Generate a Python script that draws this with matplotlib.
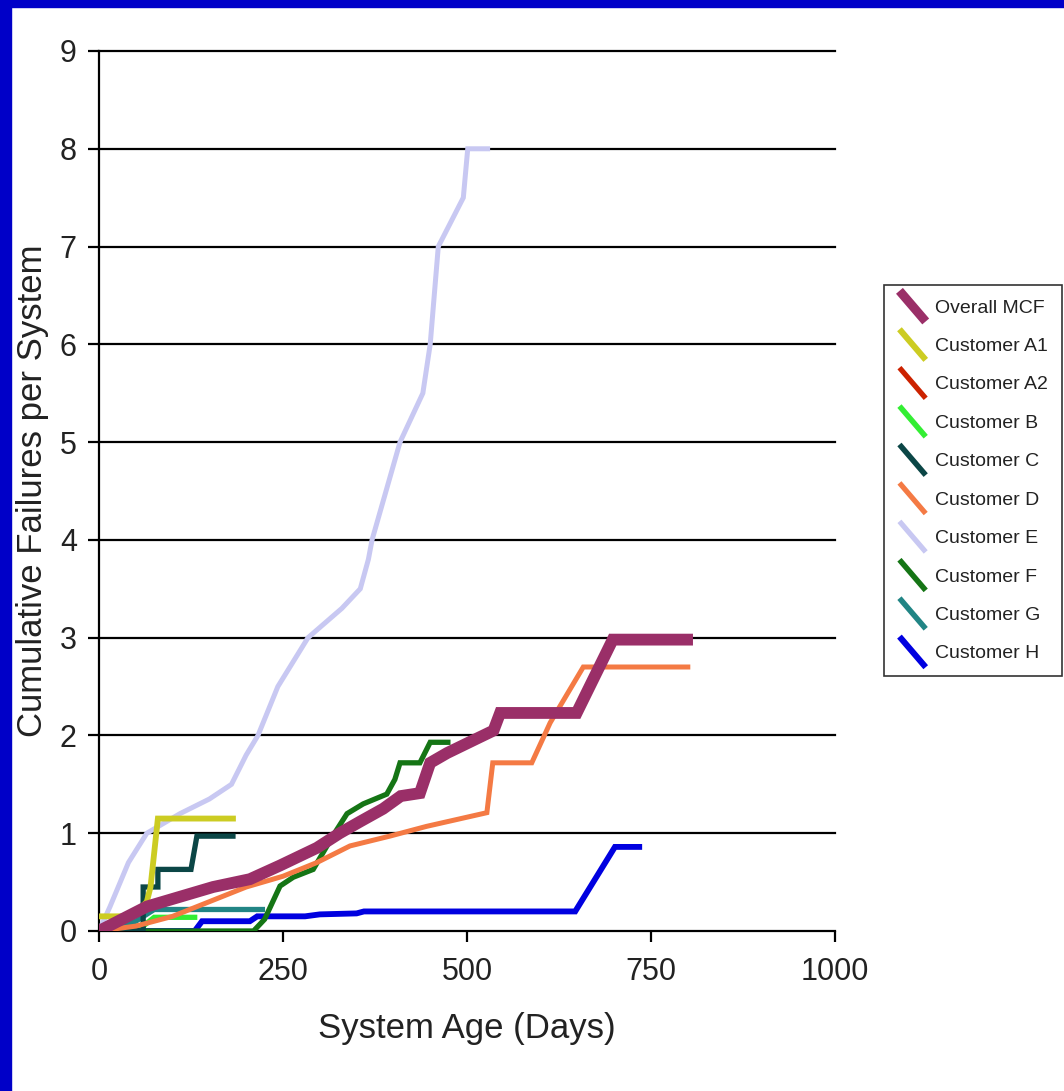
import matplotlib
matplotlib.use("Agg")
import matplotlib.pyplot as plt
from matplotlib.lines import Line2D
from matplotlib.legend_handler import HandlerLine2D
from matplotlib.patches import Rectangle
from matplotlib import font_manager

# ---------------- data ----------------
mcf_days = [0, 65, 155, 205, 246, 296, 327, 355, 386, 410, 436, 450, 473, 514, 536, 545, 649, 698, 799]
mcf_vals = [0, 0.25, 0.45, 0.53, 0.67, 0.85, 1.0, 1.12, 1.25, 1.38, 1.41, 1.72, 1.82, 1.97, 2.05, 2.23, 2.23, 2.98, 2.98]

a1_days = [0, 45, 65, 70, 80, 182]
a1_vals = [0.15, 0.15, 0.3, 0.45, 1.15, 1.15]

a2_days = [0, 30, 60]
a2_vals = [0, 0.05, 0.05]

b_days = [0, 60, 75, 130]
b_vals = [0, 0.05, 0.14, 0.14]

c_days = [0, 60, 60, 80, 80, 125, 133, 182]
c_vals = [0, 0, 0.45, 0.45, 0.63, 0.63, 0.97, 0.97]

d_days = [0, 50, 100, 150, 200, 250, 296, 341, 395, 445, 486, 527, 535, 588, 613, 658, 685, 800]
d_vals = [0, 0.05, 0.15, 0.3, 0.45, 0.56, 0.7, 0.87, 0.97, 1.07, 1.14, 1.21, 1.72, 1.72, 2.13, 2.7, 2.7, 2.7]

e_days = [0, 15, 40, 65, 110, 150, 180, 200, 216, 243, 284, 330, 355, 366, 371, 409, 440, 450, 461, 495, 501, 528]
e_vals = [0, 0.25, 0.7, 1.0, 1.2, 1.35, 1.5, 1.8, 2.0, 2.5, 3.0, 3.3, 3.5, 3.8, 4.0, 5.0, 5.5, 6.0, 7.0, 7.5, 8.0, 8.0]

f_days = [0, 40, 210, 225, 246, 264, 291, 320, 337, 359, 391, 402, 409, 436, 450, 474]
f_vals = [0, 0, 0, 0.12, 0.46, 0.55, 0.63, 1.0, 1.2, 1.3, 1.4, 1.55, 1.72, 1.72, 1.93, 1.93]

g_days = [0, 50, 75, 222]
g_vals = [0, 0.1, 0.22, 0.22]

h_days = [0, 130, 140, 205, 215, 280, 300, 350, 360, 647, 701, 734]
h_vals = [0, 0, 0.1, 0.1, 0.15, 0.15, 0.17, 0.18, 0.2, 0.2, 0.86, 0.86]

labels = ["Overall MCF", "Customer A1", "Customer A2", "Customer B", "Customer C",
          "Customer D", "Customer E", "Customer F", "Customer G", "Customer H"]
x_ticks = [0, 250, 500, 750, 1000]
y_ticks = list(range(0, 10))

# ---------------- fonts ----------------
avail = {f.name for f in font_manager.fontManager.ttflist}
fam = ["Liberation Sans Narrow", "Liberation Sans", "DejaVu Sans"]
fam = [f for f in fam if f in avail] or ["DejaVu Sans"]
plt.rcParams["font.family"] = fam

W, H = 1064, 1091
fig = plt.figure(figsize=(W / 100, H / 100), dpi=100)
fig.patch.set_facecolor("white")
# blue slide border (left and top)
fig.add_artist(Rectangle((0, 0), 11 / W, 1, transform=fig.transFigure, color="#0000C8", zorder=0))
fig.add_artist(Rectangle((0, 1 - 7 / H), 1, 7 / H, transform=fig.transFigure, color="#0000C8", zorder=0))

L, R, B, T = 99, 835, 931, 51
ax = fig.add_axes([L / W, (H - B) / H, (R - L) / W, (B - T) / H])
ax.set_xlim(0, 1000)
ax.set_ylim(0, 9)

for y in y_ticks[1:]:
    ax.axhline(y, color="black", lw=1.6, zorder=1, clip_on=False)

series = [
    (e_days, e_vals, "#C8C8F2", 3.6, 3, labels[6]),
    (a2_days, a2_vals, "#CC2200", 3.6, 3, labels[2]),
    (b_days, b_vals, "#33EE33", 3.8, 4, labels[3]),
    (g_days, g_vals, "#218585", 3.8, 4, labels[8]),
    (h_days, h_vals, "#0000E0", 4.2, 4, labels[9]),
    (f_days, f_vals, "#157515", 3.8, 5, labels[7]),
    (c_days, c_vals, "#0B4646", 3.8, 5, labels[4]),
    (a1_days, a1_vals, "#CCCC22", 4.2, 5, labels[1]),
    (d_days, d_vals, "#F47A44", 3.6, 6, labels[5]),
    (mcf_days, mcf_vals, "#9A2F68", 8.5, 7, labels[0]),
]
handles = {}
for xd, yd, col, lw, z, lab in series:
    ln, = ax.plot(xd, yd, color=col, lw=lw, zorder=z, solid_joinstyle="miter", label=lab)
    handles[lab] = ln

for s in ["top", "right"]:
    ax.spines[s].set_visible(False)
for s in ["left", "bottom"]:
    ax.spines[s].set_linewidth(1.6)
    ax.spines[s].set_color("black")

ax.set_xticks(x_ticks)
ax.set_yticks(y_ticks)
ax.tick_params(axis="both", direction="out", length=8, width=1.6, colors="black",
               labelsize=22, labelcolor="#222222")
ax.tick_params(axis="y", pad=8)
ax.tick_params(axis="x", pad=11)
ax.set_xlabel("System Age (Days)", fontsize=25, color="#222222", labelpad=18)
ax.set_ylabel("Cumulative Failures per System", fontsize=25, color="#222222", labelpad=8)


class DiagHandler(HandlerLine2D):
    def create_artists(self, legend, orig_handle, xdescent, ydescent, width, height, fontsize, trans):
        x0 = -xdescent + width * 0.05
        x1 = -xdescent + width * 0.95
        y0 = -ydescent + height * 1.6
        y1 = -ydescent - height * 0.65
        lw = orig_handle.get_linewidth()
        lw = 6.5 if lw > 5 else lw * 1.05
        line = Line2D([x0, x1], [y0, y1], color=orig_handle.get_color(), lw=lw,
                      solid_capstyle="butt")
        line.set_transform(trans)
        return [line]


leg = fig.legend([handles[l] for l in labels], labels,
                 loc="upper left", bbox_to_anchor=(884 / W, 1 - 285 / H),
                 borderaxespad=0, frameon=True, fancybox=False, edgecolor="black",
                 fontsize=14, labelspacing=1.07, handlelength=1.5, handletextpad=0.4,
                 borderpad=0.72,
                 handler_map={Line2D: DiagHandler()})
leg.get_frame().set_linewidth(1.2)
for t in leg.get_texts():
    t.set_color("#222222")

fig.savefig("out.png", dpi=100, facecolor="white")
